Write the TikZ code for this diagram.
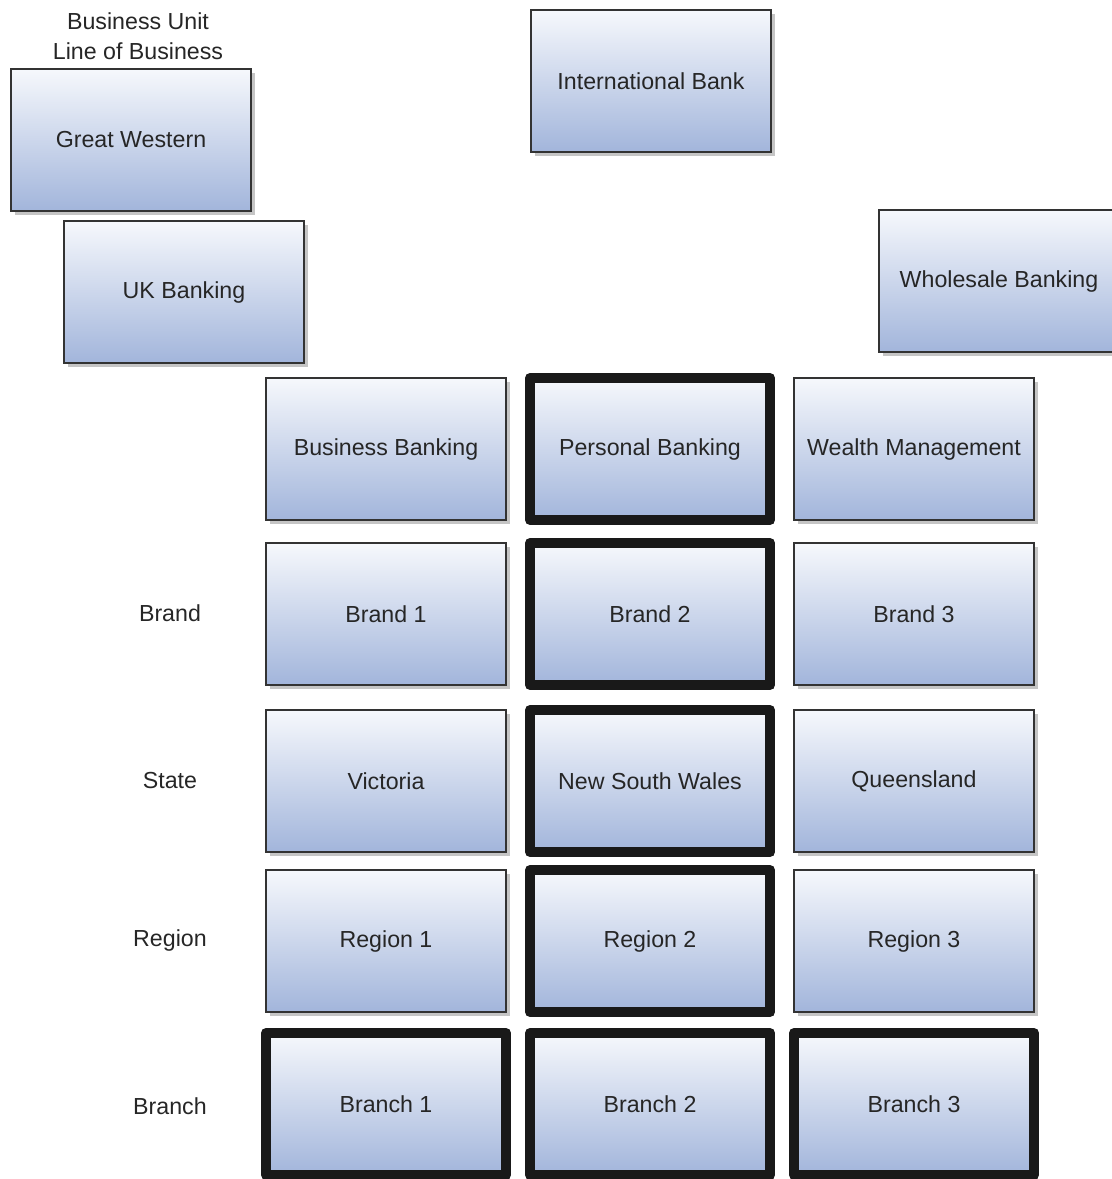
\documentclass[tikz,border=0pt]{standalone}
\usepackage{fontspec}
\setmainfont{Liberation Sans}
\usetikzlibrary{shadows}

\definecolor{boxtop}{HTML}{F6F8FC}
\definecolor{boxbottom}{HTML}{A2B5DB}
\definecolor{boxtext}{HTML}{262626}

\tikzset{
	unitbox/.style={draw=black!80, line width=1pt, top color=boxtop, bottom color=boxbottom,
		minimum width=120pt, minimum height=71pt, inner sep=0pt, text=boxtext,
		font=\fontsize{11.6}{14}\selectfont,
		drop shadow={shadow xshift=2pt, shadow yshift=-2pt, fill=black!45, opacity=0.5}},
	pickedbox/.style={unitbox, draw=black!90, line width=5pt, line join=round},
	levellabel/.style={text=boxtext, align=center, inner sep=0pt, font=\fontsize{11.6}{15}\selectfont},
}

\begin{document}
\begin{tikzpicture}[x=0.5pt,y=-0.5pt]

\useasboundingbox (0,0) rectangle (1112,1179);

% level names
\node[levellabel] (lvlbu) at (138,36) {Business Unit\\Line of Business};
\node[levellabel] (lvlbrand) at (170,613) {Brand};
\node[levellabel] (lvlstate) at (170,781) {State};
\node[levellabel] (lvlregion) at (170,940) {Region};
\node[levellabel] (lvlbranch) at (170,1106) {Branch};

% top of the tree
\node[unitbox] (gw) at (131,140) {Great Western};
\node[unitbox] (intl) at (651,81) {International Bank};
\node[unitbox] (uk) at (184,292) {UK Banking};
\node[unitbox] (whole) at (999,281) {Wholesale Banking};

% lines of business
\node[unitbox] (bb) at (386,449) {Business Banking};
\node[pickedbox] (pb) at (650,449) {Personal Banking};
\node[unitbox] (wm) at (914,449) {Wealth Management};

% brands
\node[unitbox] (brand1) at (386,614) {Brand 1};
\node[pickedbox] (brand2) at (650,614) {Brand 2};
\node[unitbox] (brand3) at (914,614) {Brand 3};

% states
\node[unitbox] (vic) at (386,781) {Victoria};
\node[pickedbox] (nsw) at (650,781) {New South Wales};
\node[unitbox] (qld) at (914,781) {Queensland};

% regions
\node[unitbox] (region1) at (386,941) {Region 1};
\node[pickedbox] (region2) at (650,941) {Region 2};
\node[unitbox] (region3) at (914,941) {Region 3};

% branches
\node[pickedbox] (branch1) at (386,1104) {Branch 1};
\node[pickedbox] (branch2) at (650,1104) {Branch 2};
\node[pickedbox] (branch3) at (914,1104) {Branch 3};

\end{tikzpicture}
\end{document}
